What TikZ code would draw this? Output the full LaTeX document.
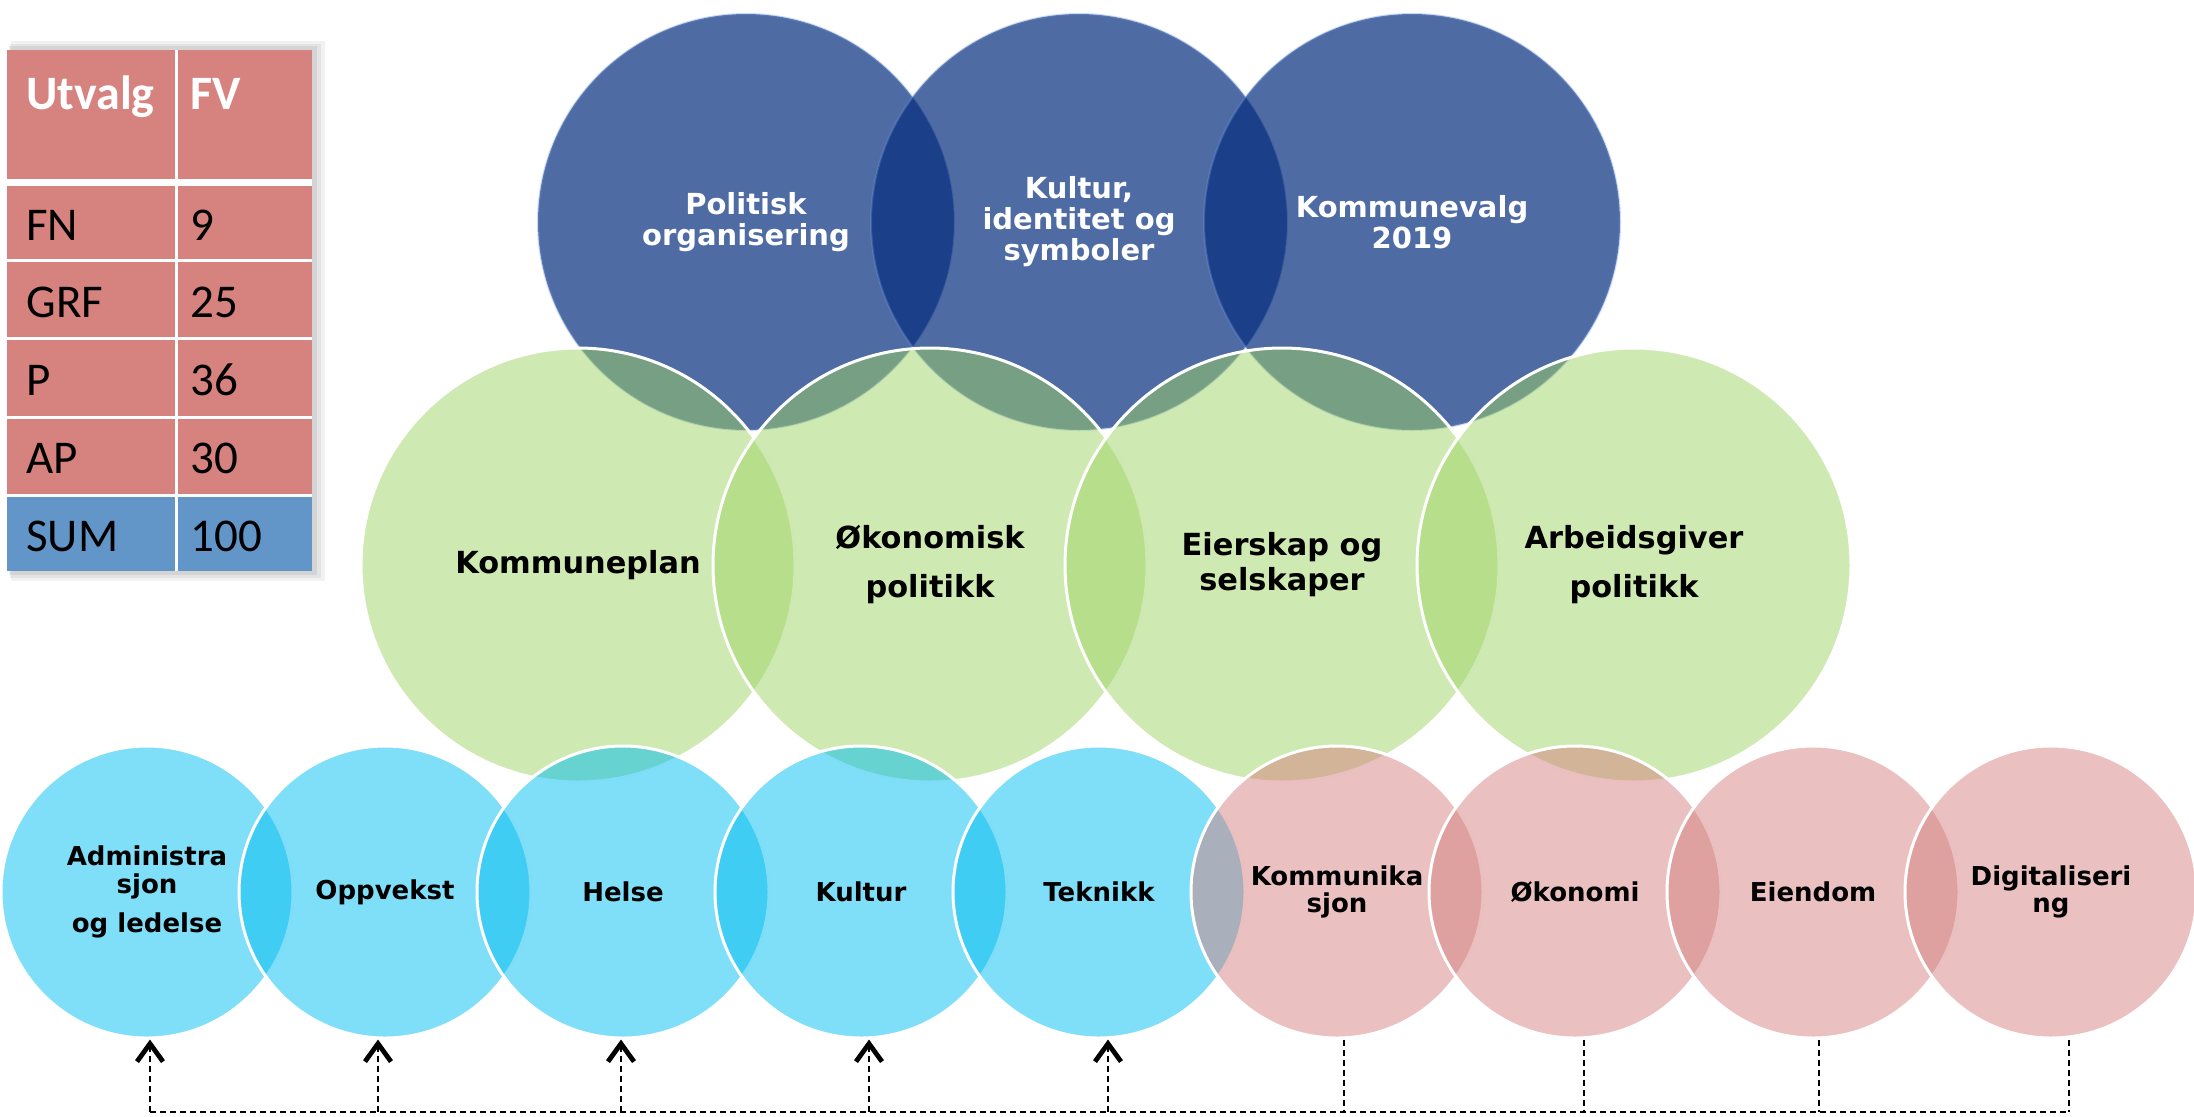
\documentclass[tikz,border=0pt]{standalone}
\usepackage{fontspec}
\setmainfont{DejaVu Sans}
\newfontfamily\tabfont{Carlito}
\usetikzlibrary{arrows.meta}
\definecolor{topblue}{RGB}{4,44,124}
\definecolor{topedge}{RGB}{110,150,215}
\definecolor{leafgreen}{RGB}{159,211,101}
\definecolor{skyblue}{RGB}{0,189,241}
\definecolor{rosered}{RGB}{213,129,129}
\definecolor{cellred}{RGB}{214,131,127}
\definecolor{cellblue}{RGB}{99,150,200}
\begin{document}
\begin{tikzpicture}[x=0.5pt,y=-0.5pt,
  topbub/.style={circle, inner sep=0pt, minimum size=208pt, fill=topblue, fill opacity=0.7,
    draw=topedge, draw opacity=0.35, line width=1pt, text opacity=1, text=white, align=center,
    font=\bfseries\fontsize{14.5}{15.5}\selectfont},
  midbub/.style={circle, inner sep=0pt, minimum size=217pt, fill=leafgreen, fill opacity=0.5,
    draw=white, line width=1.5pt, text opacity=1, align=center,
    font=\bfseries\fontsize{15.2}{17.5}\selectfont},
  lowbub/.style={circle, inner sep=0pt, minimum size=146pt, fill opacity=0.5,
    draw=white, line width=1.5pt, text opacity=1, align=center,
    font=\bfseries\fontsize{13}{13.8}\selectfont},
  link/.style={line width=0.8pt, dash pattern=on 3pt off 2pt},
  up/.style={link, -{Straight Barb[length=9pt,width=13pt,line width=2.4pt]}},
  cell/.style={anchor=base west, inner sep=0pt, font=\tabfont\fontsize{23.5}{23.5}\selectfont},
  head/.style={cell, text=white, font=\tabfont\bfseries\fontsize{24}{24}\selectfont}]
  \useasboundingbox (0,0) rectangle (2194,1116);

  \fill[black, opacity=0.07] (9,46) rectangle (317,575);
  \fill[black, opacity=0.06] (10,44) rectangle (321,578);
  \fill[black, opacity=0.05] (11,41) rectangle (325,581);
  \fill[cellred] (7,50) rectangle (312,495);
  \fill[cellblue] (7,495) rectangle (312,571);
  \draw[white, line width=1.5pt] (176,50) -- (176,571);
  \draw[white, line width=3.8pt] (7,182.5) -- (312,182.5);
  \draw[white, line width=1.5pt] (7,260) -- (312,260);
  \draw[white, line width=1.5pt] (7,338) -- (312,338);
  \draw[white, line width=1.5pt] (7,417) -- (312,417);
  \draw[white, line width=1.5pt] (7,495) -- (312,495);

  \node[head] (utv) at (26,109) {Utvalg};
  \node[head] (fv) at (190,109) {FV};
  \node[cell] (fn) at (26,240) {FN};
  \node[cell] (fnv) at (190,240) {9};
  \node[cell] (grf) at (26,317) {GRF};
  \node[cell] (grfv) at (190,317) {25};
  \node[cell] (p) at (26,395) {P};
  \node[cell] (pv) at (190,395) {36};
  \node[cell] (ap) at (26,473) {AP};
  \node[cell] (apv) at (190,473) {30};
  \node[cell] (sum) at (26,551) {SUM};
  \node[cell] (sumv) at (190,551) {100};

  \node[topbub] (pol) at (746,222) {Politisk\\organisering};
  \node[topbub] (kul) at (1079,222) {Kultur,\\identitet og\\symboler};
  \node[topbub] (val) at (1412,222) {Kommunevalg\\2019};

  \node[midbub] (kplan) at (578,565) {Kommuneplan};
  \node[midbub] (okpol) at (930,565) {Økonomisk\\[7pt]politikk};
  \node[midbub] (eier) at (1282,565) {Eierskap og\\selskaper};
  \node[midbub] (arbpol) at (1634,565) {Arbeidsgiver\\[7pt]politikk};

  \node[lowbub, fill=skyblue] (adm) at (147,892) {Administra\\sjon\\[6pt]og ledelse};
  \node[lowbub, fill=skyblue] (opp) at (385,892) {Oppvekst};
  \node[lowbub, fill=skyblue] (hel) at (623,892) {Helse};
  \node[lowbub, fill=skyblue] (kult) at (861,892) {Kultur};
  \node[lowbub, fill=skyblue] (tek) at (1099,892) {Teknikk};
  \node[lowbub, fill=rosered] (kom) at (1337,892) {Kommunika\\sjon};
  \node[lowbub, fill=rosered] (oko) at (1575,892) {Økonomi};
  \node[lowbub, fill=rosered] (eie) at (1813,892) {Eiendom};
  \node[lowbub, fill=rosered] (dig) at (2051,892) {Digitaliseri\\ng};

  \coordinate (bus) at (0,1112);
  \draw[link] ([xshift=1.5pt]adm.south |- bus) -- ([xshift=9pt]dig.south |- bus);
  \draw[up] ([xshift=1.5pt]adm.south |- bus) -- ([xshift=1.5pt]adm.south);
  \draw[up] ([xshift=-3.5pt]opp.south |- bus) -- ([xshift=-3.5pt]opp.south);
  \draw[up] ([xshift=-1pt]hel.south |- bus) -- ([xshift=-1pt]hel.south);
  \draw[up] ([xshift=4pt]kult.south |- bus) -- ([xshift=4pt]kult.south);
  \draw[up] ([xshift=4.5pt]tek.south |- bus) -- ([xshift=4.5pt]tek.south);
  \draw[link] ([xshift=3.5pt]kom.south) -- ([xshift=3.5pt]kom.south |- bus);
  \draw[link] ([xshift=4.5pt]oko.south) -- ([xshift=4.5pt]oko.south |- bus);
  \draw[link] ([xshift=3pt]eie.south) -- ([xshift=3pt]eie.south |- bus);
  \draw[link] ([xshift=9pt]dig.south) -- ([xshift=9pt]dig.south |- bus);
\end{tikzpicture}
\end{document}
